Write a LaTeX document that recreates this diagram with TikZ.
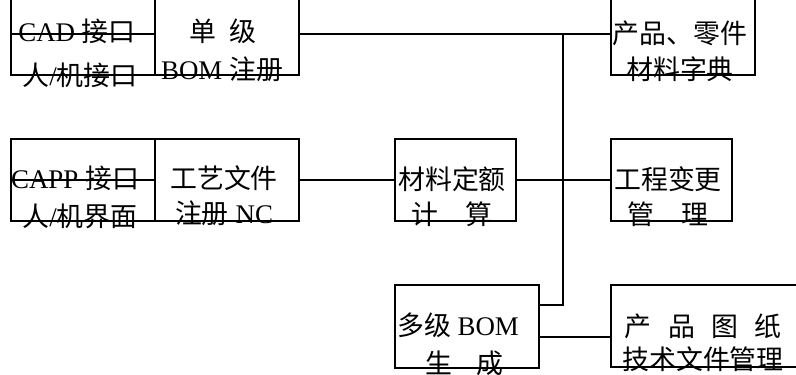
\documentclass[tikz,border=0pt]{standalone}
\usepackage{fontspec}
\setmainfont{Liberation Serif}
\newfontfamily\cjkfont{Noto Sans CJK SC}
\newcommand\zhtxt[1]{{\cjkfont #1}}
\begin{document}
\begin{tikzpicture}[x=1bp,y=-1bp,line width=1.6bp,
  bx/.style={draw,rectangle,inner sep=0pt,minimum height=82bp,minimum width=#1},
  lbl/.style={inner sep=0pt,font=\fontsize{27}{32}\selectfont,text height=0.88em,text depth=0.12em,yshift=-4bp}]
\useasboundingbox (0,0) rectangle (796,374);
% boxes
\node[bx=144bp] (A) at (83,34) {};
\node[bx=144bp] (B) at (227,34) {};
\node[bx=144bp] (C) at (683,34) {};
\node[bx=144bp] (D) at (83,180) {};
\node[bx=144bp] (E) at (227,180) {};
\node[bx=121bp] (F) at (455.5,180) {};
\node[bx=121bp] (H) at (671.5,180) {};
\node[bx=144bp,minimum height=83bp] (G) at (467,326.5) {};
\node[bx=289bp] (I) at (755.5,326) {};
% connectors
\draw (A.west) -- (A.east);
\draw (D.west) -- (D.east);
\draw (B.east) -- (C.west);
\draw (E.east) -- (F.west);
\draw (F.east) -- (H.west);
\coordinate (J) at (563,34);
\coordinate (K) at (563,305);
\draw (J) -- (K) -- (K -| G.east);
\coordinate (L) at (539,337);
\draw (L) -- (L -| I.west);
% labels
\node[lbl] (a1) at (77,34) {CAD \zhtxt{接口}};
\node[lbl] (a2) at (80,78) {\zhtxt{人}/\zhtxt{机接口}};
\node[lbl] (b1) at (223,34) {\zhtxt{单\hspace{0.5em}级}};
\node[lbl] (b2) at (222,72) {BOM \zhtxt{注册}};
\node[lbl] (c1) at (680,36) {\zhtxt{产品、零件}};
\node[lbl] (c2) at (680,72) {\zhtxt{材料字典}};
\node[lbl] (d1) at (75,181) {CAPP \zhtxt{接口}};
\node[lbl] (d2) at (80,219) {\zhtxt{人}/\zhtxt{机界面}};
\node[lbl] (e1) at (224,181) {\zhtxt{工艺文件}};
\node[lbl] (e2) at (224,216) {\zhtxt{注册} NC};
\node[lbl] (f1) at (452,182) {\zhtxt{材料定额}};
\node[lbl] (f2) at (452,217) {\zhtxt{计\hspace{1em}算}};
\node[lbl] (h1) at (668,182) {\zhtxt{工程变更}};
\node[lbl] (h2) at (668,217) {\zhtxt{管\hspace{1em}理}};
\node[lbl] (g1) at (458,328) {\zhtxt{多级} BOM};
\node[lbl] (g2) at (464,366) {\zhtxt{生\hspace{0.9em}成}};
\node[lbl] (i1) at (703,329) {\zhtxt{产\hspace{0.6em}品\hspace{0.6em}图\hspace{0.6em}纸}};
\node[lbl] (i2) at (703,362) {\zhtxt{技术文件管理}};
\end{tikzpicture}
\end{document}
